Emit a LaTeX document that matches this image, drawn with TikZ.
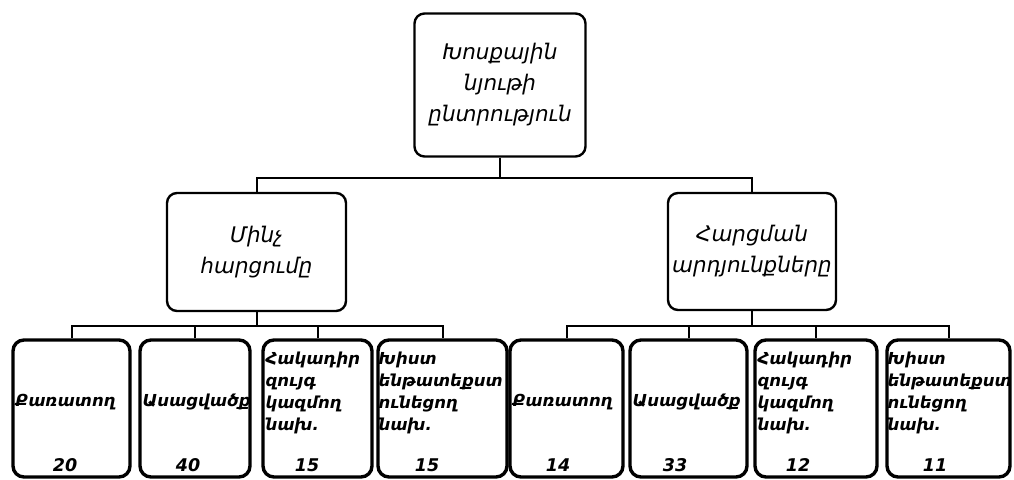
\documentclass[tikz,border=0pt]{standalone}
\usepackage{fontspec}
\setmainfont{DejaVu Sans}
\begin{document}
\begin{tikzpicture}[x=1pt,y=-1pt,
	head/.style={draw,line width=2.4pt,rounded corners=10pt,align=center,
		font=\itshape\fontsize{21.5}{31}\selectfont},
	cell/.style={draw,line width=3.4pt,rounded corners=11pt,minimum height=137pt},
	word/.style={inner sep=0pt,align=left,font=\bfseries\itshape\fontsize{16.5}{22}\selectfont},
	num/.style={inner sep=0pt,font=\bfseries\itshape\fontsize{17.5}{17.5}\selectfont},
	wire/.style={line width=2pt}]
	\useasboundingbox (0,0) rectangle (1014,479);
	% ba ways vorakner
	\node[head,minimum width=171pt,minimum height=143pt] (top) at (500,85)
		{Խոսքային\\նյութի\\ընտրություն};
	\node[head,minimum width=179pt,minimum height=118pt] (mid1) at (256.5,252)
		{Մինչ\\հարցումը};
	\node[head,minimum width=168pt,minimum height=117pt] (mid2) at (752,251.5)
		{Հարցման\\արդյունքները};
	% nerqevi tuper u tver
	\foreach \c/\w/\v/\p [count=\i] in {71.5/117/20/65,195/110/40/188,
		317.5/109/15/307,442.5/129/15/427,566.5/113/14/558,688.5/117/33/675,
		816/122/12/798,948.5/123/11/935}
	{
		\node[cell,minimum width=\w pt] (b\i) at (\c,408.5) {};
		\node[num] (n\i) at (\p,465) {\v};
	}
	\foreach \i in {1,5}
	\node[word,anchor=west] at ([xshift=4pt,yshift=6pt]b\i.west) {Քառատող};
	\foreach \i in {2,6}
	\node[word,anchor=west] at ([xshift=4pt,yshift=6pt]b\i.west) {Ասացվածք};
	\foreach \i in {3,7}
	\node[word,anchor=north west] at ([xshift=4pt,yshift=-13pt]b\i.north west)
		{Հակադիր\\զույգ\\կազմող\\նախ.};
	\foreach \i in {4,8}
	\node[word,anchor=north west] at ([xshift=2pt,yshift=-13pt]b\i.north west)
		{Խիստ\\ենթատեքստ\\ունեցող\\նախ.};
	% kaper
	\path (top.south) ++(0,20) coordinate (j0)
		(mid1.south) ++(0,14) coordinate (j1)
		(mid2.south) ++(0,14.5) coordinate (j2);
	\draw[wire] (top.south)--(j0);
	\draw[wire] (mid1.north) |- (j0) -| (mid2.north);
	\draw[wire] (mid1.south)--(j1);
	\draw[wire] (mid2.south)--(j2);
	\draw[wire] (b1.north) |- (j1) -| (b4.north);
	\draw[wire] (b5.north) |- (j2) -| (b8.north);
	\foreach \i in {2,3}
	\draw[wire] (b\i.north)--(b\i.north |- j1);
	\foreach \i in {6,7}
	\draw[wire] (b\i.north)--(b\i.north |- j2);
\end{tikzpicture}
\end{document}
